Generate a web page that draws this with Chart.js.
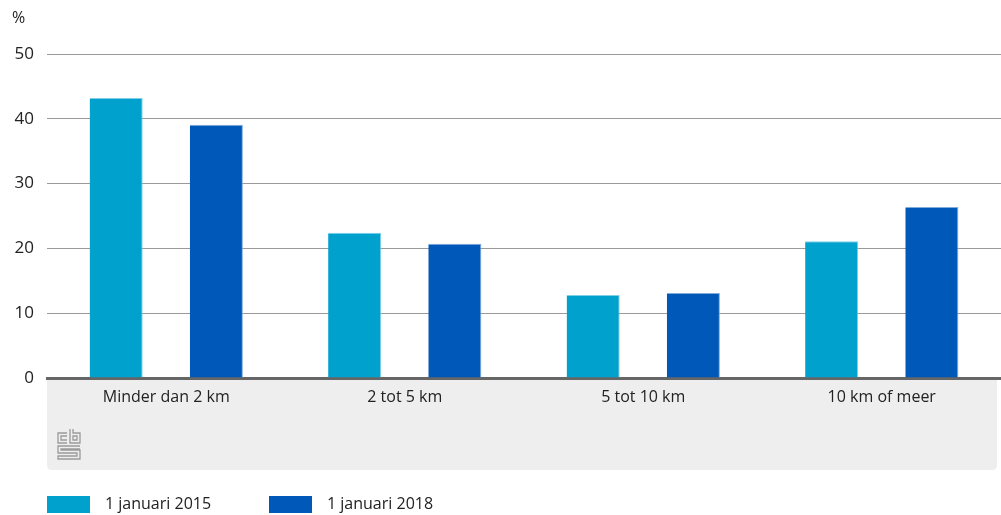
<!DOCTYPE html>
<html>
<head>
<meta charset="utf-8">
<script src="https://cdn.jsdelivr.net/npm/chart.js@4/dist/chart.umd.min.js"></script>
<style>
  body { margin: 0; background: #fff; }
  #wrap { width: 1001px; height: 515px; position: relative; }
</style>
</head>
<body>
<div id="wrap"><canvas id="chart"></canvas></div>
<script>
var categories = ["Minder dan 2 km", "2 tot 5 km", "5 tot 10 km", "10 km of meer"];
var seriesNames = ["1 januari 2015", "1 januari 2018"];
var values2015 = [43.2, 22.4, 12.8, 21.1];
var values2018 = [39.1, 20.7, 13.1, 26.4];
var yTicks = [0, 10, 20, 30, 40, 50];

var FONT = "'Open Sans', 'Noto Sans', sans-serif";
var BAND_H = 92;

// grey band under the axis, the % label and the cbs logo
var decor = {
  id: 'decor',
  beforeDraw: function (chart) {
    var c = chart.ctx, a = chart.chartArea;
    var x0 = a.left, x1 = a.right - 4, y0 = a.bottom, y1 = a.bottom + BAND_H, r = 5;
    c.save();
    c.fillStyle = '#eeeeee';
    c.beginPath();
    c.moveTo(x0, y0);
    c.lineTo(x1, y0);
    c.lineTo(x1, y1 - r);
    c.quadraticCurveTo(x1, y1, x1 - r, y1);
    c.lineTo(x0 + r, y1);
    c.quadraticCurveTo(x0, y1, x0, y1 - r);
    c.closePath();
    c.fill();

    c.fillStyle = '#222';
    c.font = '16px ' + FONT;
    c.textBaseline = 'middle';
    c.fillText('%', 12, 18);

    // cbs logo, roughly
    c.strokeStyle = '#9a9a9a';
    c.lineWidth = 1.3;
    var lx = 58, ly = 429;
    c.beginPath();
    c.moveTo(lx + 9, ly + 4); c.lineTo(lx, ly + 4); c.lineTo(lx, ly + 14); c.lineTo(lx + 9, ly + 14);
    c.moveTo(lx + 9, ly + 7); c.lineTo(lx + 3, ly + 7); c.lineTo(lx + 3, ly + 11); c.lineTo(lx + 9, ly + 11);
    c.moveTo(lx + 12, ly); c.lineTo(lx + 12, ly + 14); c.lineTo(lx + 22, ly + 14); c.lineTo(lx + 22, ly + 4); c.lineTo(lx + 15, ly + 4); c.lineTo(lx + 15, ly);
    c.rect(lx + 15, ly + 7, 4, 4);
    c.moveTo(lx + 22, ly + 17); c.lineTo(lx, ly + 17); c.lineTo(lx, ly + 24); c.lineTo(lx + 19, ly + 24); c.lineTo(lx + 19, ly + 27); c.lineTo(lx, ly + 27); c.lineTo(lx, ly + 30); c.lineTo(lx + 22, ly + 30); c.lineTo(lx + 22, ly + 21); c.lineTo(lx + 3, ly + 21); c.lineTo(lx + 3, ly + 20); c.lineTo(lx + 22, ly + 20);
    c.stroke();
    c.restore();
  },
  // legend at the bottom-left, from the datasets
  afterDraw: function (chart) {
    var c = chart.ctx, a = chart.chartArea;
    var x = a.left, y = 504;
    c.save();
    c.font = '16px ' + FONT;
    c.textBaseline = 'middle';
    chart.data.datasets.forEach(function (ds) {
      c.fillStyle = ds.backgroundColor;
      c.fillRect(x, y - 8, 43, 17);
      c.fillStyle = '#222';
      c.fillText(ds.label, x + 58, y);
      x += 222;
    });
    c.restore();
  }
};

var ctx = document.getElementById('chart').getContext('2d');
var chart = new Chart(ctx, {
  type: 'bar',
  data: {
    labels: categories,
    datasets: [{
      label: seriesNames[0],
      data: values2015,
      backgroundColor: '#00a1cd',
      borderColor: '#7fd0e6',
      borderWidth: { top: 1, right: 1, left: 0, bottom: 0 }
    }, {
      label: seriesNames[1],
      data: values2018,
      backgroundColor: '#0058b8',
      borderColor: '#80abdb',
      borderWidth: { top: 1, right: 1, left: 0, bottom: 0 }
    }]
  },
  options: {
    responsive: true,
    maintainAspectRatio: false,
    animation: false,
    categoryPercentage: 0.84,
    barPercentage: 0.53,
    layout: { padding: { left: 0, right: 0, top: 54, bottom: 45 } },
    plugins: {
      tooltip: { enabled: false },
      legend: { display: false }
    },
    scales: {
      x: {
        grid: { display: false, drawTicks: false },
        border: { display: true, color: '#666', width: 3 },
        ticks: { color: '#222', padding: 10, font: { family: FONT, size: 16 } },
        afterFit: function (s) { s.height = BAND_H; }
      },
      y: {
        min: 0,
        max: 50,
        afterBuildTicks: function (s) { s.ticks = yTicks.map(function (v) { return { value: v }; }); },
        grid: { color: '#9a9a9a', lineWidth: 1, drawTicks: false },
        border: { display: false },
        ticks: { color: '#222', padding: 13, font: { family: FONT, size: 17 } },
        afterFit: function (s) { s.width = 47; }
      }
    }
  },
  plugins: [decor]
});
</script>
</body>
</html>
